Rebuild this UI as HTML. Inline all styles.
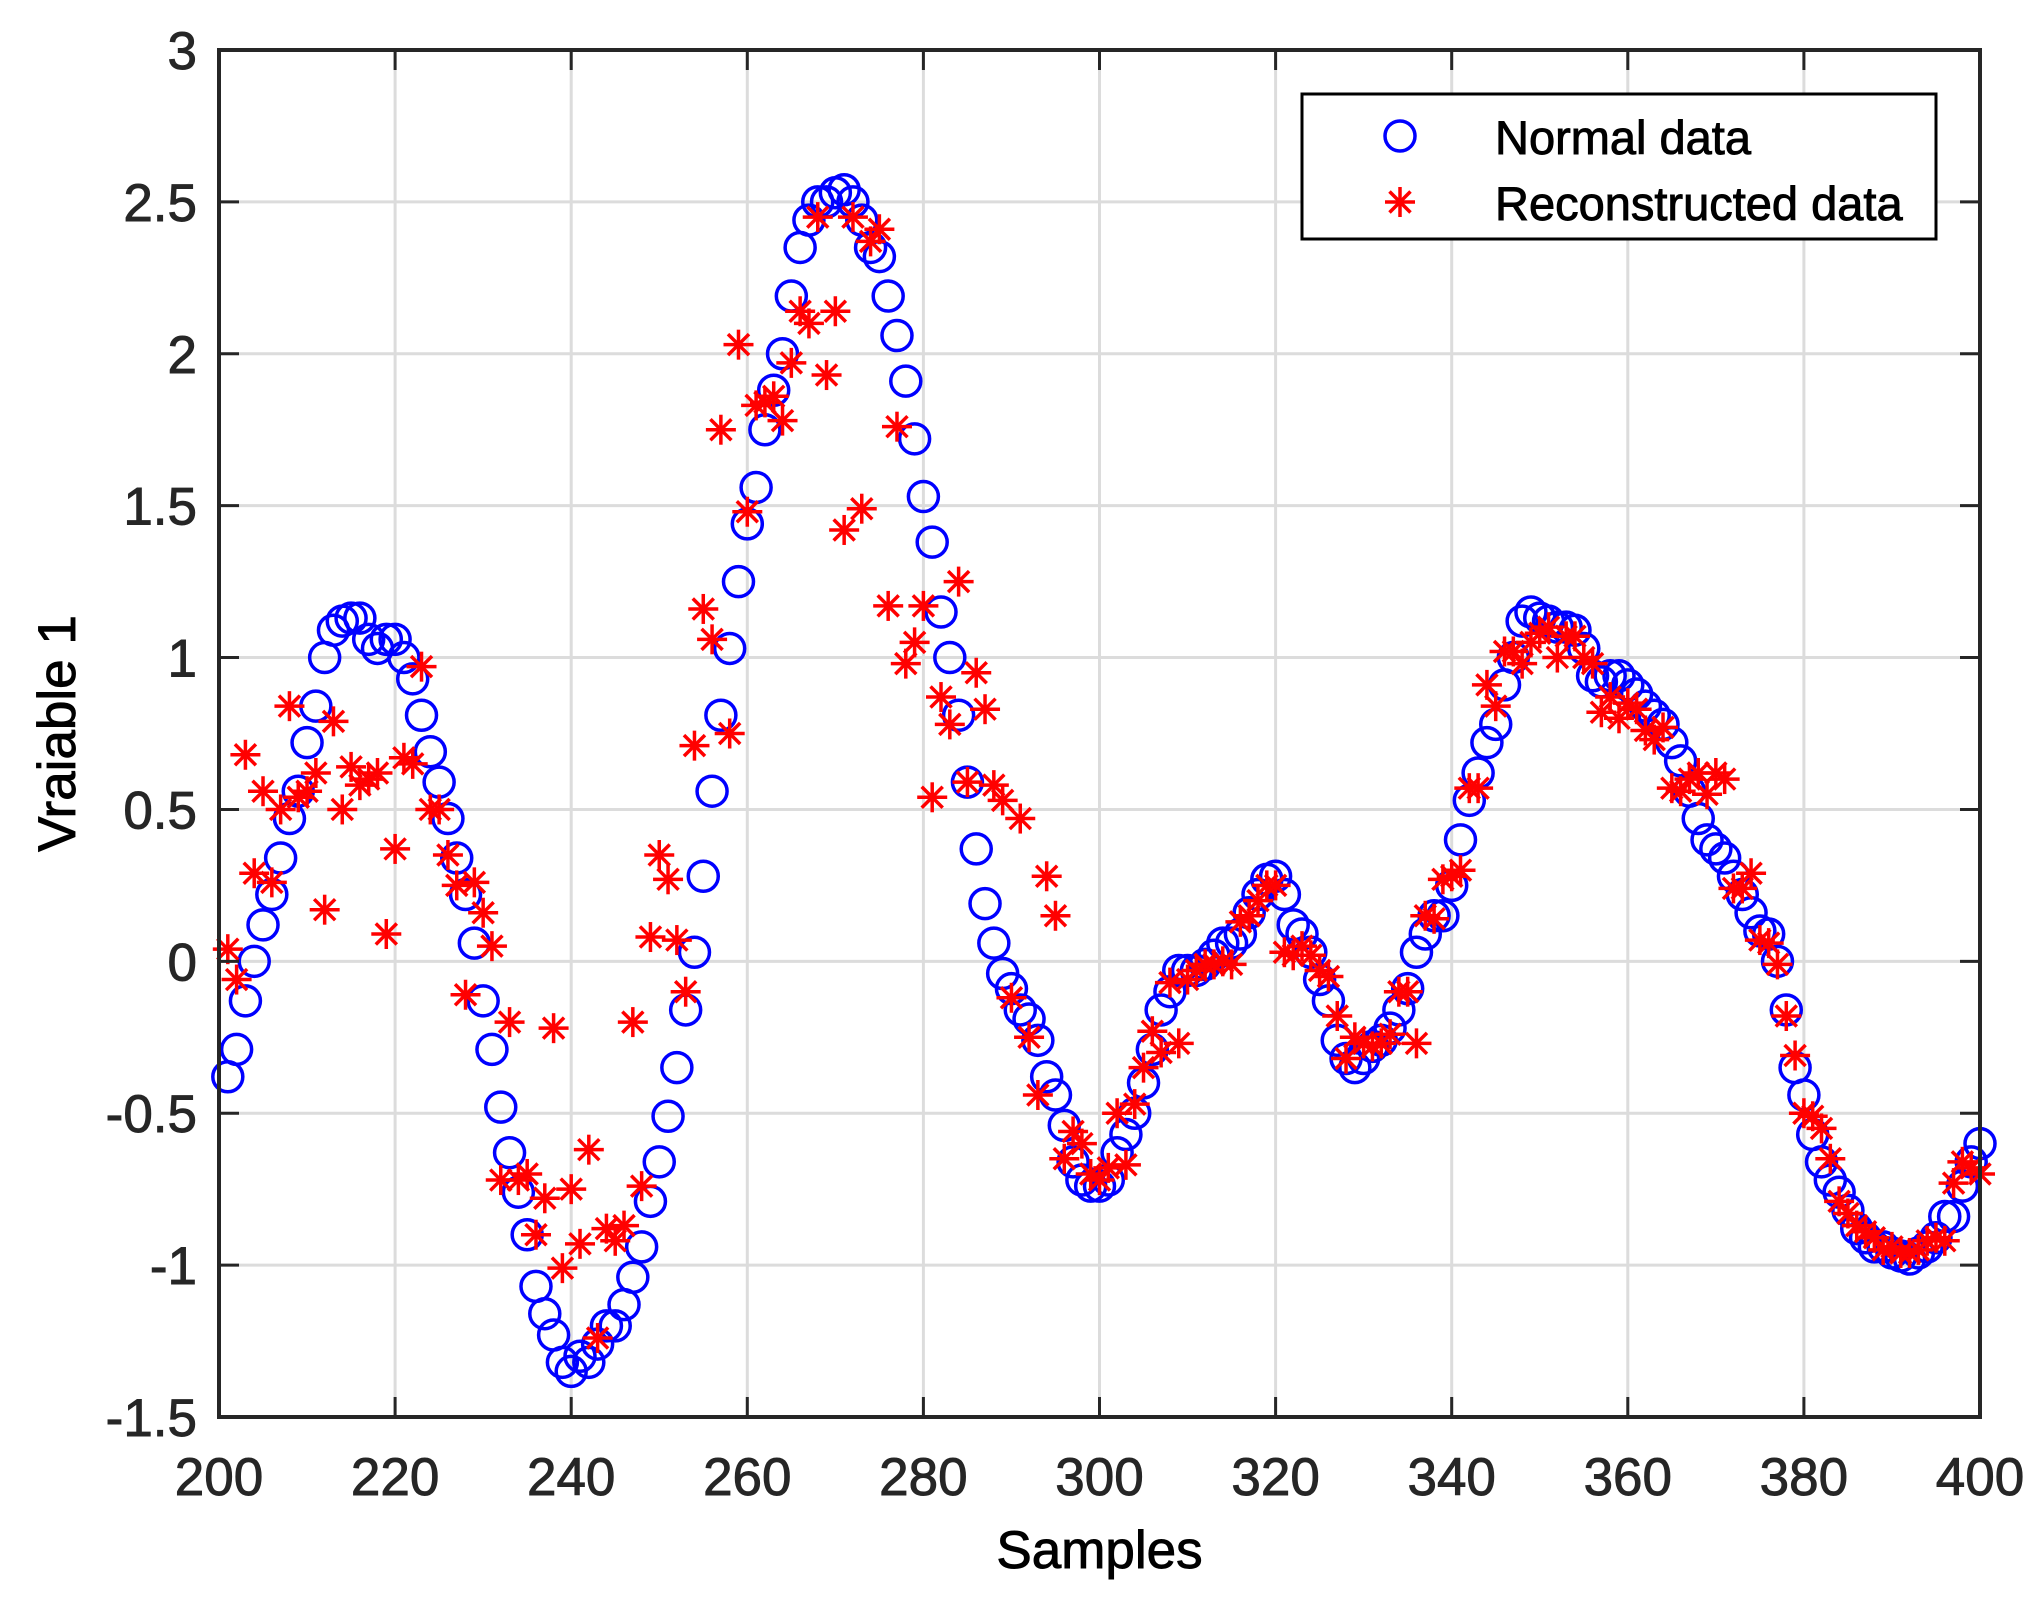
<!DOCTYPE html>
<html><head><meta charset="utf-8"><style>
html,body{margin:0;padding:0;background:#fff;}
svg{display:block;font-family:"Liberation Sans",Arial,sans-serif;}
</style></head><body>
<svg id="chart" width="2041" height="1612" viewBox="0 0 2041 1612">
<rect x="0" y="0" width="2041" height="1612" fill="#fff"/>
<g id="grid"></g><g id="marks"></g><g id="axes"></g>
</svg>
<script>
const xTicks=[200,220,240,260,280,300,320,340,360,380,400];
const yTicks=[-1.5,-1,-0.5,0,0.5,1,1.5,2,2.5,3];
const yTickLabels=["-1.5","-1","-0.5","0","0.5","1","1.5","2","2.5","3"];
const samples=[];for(let s=201;s<=400;s++)samples.push(s);
const normalData=[-0.38,-0.29,-0.13,0.0,0.12,0.22,0.34,0.47,0.56,0.72,0.84,1.0,1.09,1.12,1.13,1.13,1.06,1.03,1.06,1.06,1.0,0.93,0.81,0.69,0.59,0.47,0.34,0.22,0.06,-0.13,-0.29,-0.48,-0.63,-0.76,-0.9,-1.07,-1.16,-1.23,-1.32,-1.35,-1.3,-1.32,-1.26,-1.2,-1.2,-1.13,-1.04,-0.94,-0.79,-0.66,-0.51,-0.35,-0.16,0.03,0.28,0.56,0.81,1.03,1.25,1.44,1.56,1.75,1.88,2.0,2.19,2.35,2.44,2.5,2.5,2.53,2.54,2.5,2.44,2.35,2.32,2.19,2.06,1.91,1.72,1.53,1.38,1.15,1.0,0.81,0.59,0.37,0.19,0.06,-0.04,-0.09,-0.16,-0.19,-0.26,-0.38,-0.44,-0.54,-0.66,-0.72,-0.74,-0.74,-0.72,-0.63,-0.57,-0.5,-0.4,-0.29,-0.16,-0.1,-0.03,-0.03,-0.03,-0.01,0.02,0.06,0.06,0.09,0.16,0.22,0.27,0.28,0.22,0.12,0.09,0.03,-0.06,-0.13,-0.26,-0.32,-0.35,-0.32,-0.28,-0.26,-0.22,-0.16,-0.09,0.03,0.09,0.15,0.15,0.25,0.4,0.53,0.62,0.72,0.78,0.91,1.0,1.12,1.15,1.13,1.12,1.1,1.1,1.09,1.03,0.94,0.92,0.94,0.94,0.91,0.88,0.84,0.81,0.78,0.72,0.66,0.56,0.47,0.4,0.37,0.34,0.28,0.22,0.16,0.1,0.09,0.0,-0.16,-0.35,-0.44,-0.57,-0.66,-0.72,-0.76,-0.82,-0.88,-0.91,-0.94,-0.94,-0.96,-0.97,-0.98,-0.96,-0.94,-0.91,-0.84,-0.84,-0.74,-0.66,-0.6];
const reconData=[0.04,-0.06,0.68,0.29,0.56,0.26,0.5,0.84,0.54,0.56,0.62,0.17,0.79,0.5,0.64,0.58,0.6,0.62,0.09,0.37,0.67,0.65,0.97,0.5,0.5,0.35,0.25,-0.11,0.26,0.16,0.05,-0.72,-0.2,-0.72,-0.7,-0.9,-0.78,-0.22,-1.01,-0.75,-0.93,-0.62,-1.24,-0.88,-0.92,-0.87,-0.2,-0.74,0.08,0.35,0.27,0.07,-0.1,0.71,1.16,1.06,1.75,0.75,2.03,1.48,1.83,1.84,1.86,1.78,1.97,2.14,2.1,2.45,1.93,2.14,1.42,2.45,1.49,2.37,2.41,1.17,1.76,0.98,1.05,1.17,0.54,0.87,0.78,1.25,0.59,0.95,0.83,0.58,0.53,-0.12,0.47,-0.25,-0.44,0.28,0.15,-0.65,-0.56,-0.6,-0.7,-0.72,-0.68,-0.5,-0.67,-0.47,-0.35,-0.23,-0.3,-0.07,-0.27,-0.06,-0.03,-0.01,-0.01,0.0,-0.01,0.13,0.15,0.2,0.25,0.25,0.03,0.02,0.05,0.02,-0.03,-0.05,-0.18,-0.32,-0.25,-0.27,-0.28,-0.27,-0.24,-0.1,-0.1,-0.27,0.15,0.14,0.27,0.28,0.3,0.57,0.57,0.91,0.84,1.02,1.02,0.98,1.05,1.08,1.1,1.0,1.07,1.07,1.0,0.98,0.82,0.87,0.8,0.85,0.83,0.76,0.73,0.77,0.57,0.56,0.6,0.62,0.55,0.62,0.6,0.24,0.24,0.29,0.07,0.06,-0.01,-0.18,-0.31,-0.5,-0.51,-0.55,-0.65,-0.79,-0.83,-0.87,-0.89,-0.91,-0.95,-0.94,-0.96,-0.96,-0.95,-0.92,-0.91,-0.92,-0.73,-0.66,-0.68,-0.7];

const L=219,R=1980,T=50,B=1417;
const xMin=200,xMax=400,yMin=-1.5,yMax=3;
function xs(v){return L+(v-xMin)/(xMax-xMin)*(R-L);}
function ys(v){return B-(v-yMin)/(yMax-yMin)*(B-T);}
const NS="http://www.w3.org/2000/svg";
function mk(tag,attrs,parent){const e=document.createElementNS(NS,tag);for(const k in attrs)e.setAttribute(k,attrs[k]);parent.appendChild(e);return e;}
const grid=document.getElementById('grid'),marks=document.getElementById('marks'),axes=document.getElementById('axes');

xTicks.forEach(t=>{const x=xs(t);
 let g=mk('line',{x1:x,x2:x,y1:T,y2:B,stroke:'#dcdcdc','stroke-width':3},grid);
 
 
 mk('line',{x1:x,x2:x,y1:B,y2:B-20,stroke:'#262626','stroke-width':3},axes);
 mk('line',{x1:x,x2:x,y1:T,y2:T+20,stroke:'#262626','stroke-width':3},axes);
 let tx=mk('text',{x:x,y:1495,'text-anchor':'middle','font-size':53,fill:'#262626',stroke:'#262626','stroke-width':0.9},axes);tx.textContent=t;
 
 
});
yTicks.forEach((t,i)=>{const y=ys(t);
 let g=mk('line',{x1:L,x2:R,y1:y,y2:y,stroke:'#dcdcdc','stroke-width':3},grid);
 
 
 mk('line',{x1:L,x2:L+20,y1:y,y2:y,stroke:'#262626','stroke-width':3},axes);
 mk('line',{x1:R,x2:R-20,y1:y,y2:y,stroke:'#262626','stroke-width':3},axes);
 let tx=mk('text',{x:197,y:y+19,'text-anchor':'end','font-size':53,fill:'#262626',stroke:'#262626','stroke-width':0.9},axes);tx.textContent=yTickLabels[i];
 
 
});
let box=mk('rect',{x:L,y:T,width:R-L,height:B-T,fill:'none',stroke:'#262626','stroke-width':4},axes);



function star(cx,cy,s,parent){const g=mk('g',{stroke:'#ff0000','stroke-width':3.5},parent);
 mk('line',{x1:cx-s,x2:cx+s,y1:cy,y2:cy},g);mk('line',{x1:cx,x2:cx,y1:cy-s,y2:cy+s},g);
 const d=s*0.7;mk('line',{x1:cx-d,x2:cx+d,y1:cy-d,y2:cy+d},g);mk('line',{x1:cx-d,x2:cx+d,y1:cy+d,y2:cy-d},g);return g;}

samples.forEach((s,i)=>{
 let c=mk('circle',{cx:xs(s),cy:ys(normalData[i]),r:15,fill:'none',stroke:'#0000ff','stroke-width':3.5},marks);
 
 
});
samples.forEach((s,i)=>{
 let g=star(xs(s),ys(reconData[i]),15,marks);
 
 
});

const leg=mk('g',{},axes);


mk('rect',{x:1302,y:94,width:634,height:145,fill:'#fff',stroke:'#000','stroke-width':3},leg);
let lc=mk('circle',{cx:1400,cy:136,r:15,fill:'none',stroke:'#0000ff','stroke-width':3.5},leg);


let ls=star(1400,202,15,leg);


let t1=mk('text',{x:1495,y:154,'font-size':47,fill:'#000',stroke:'#000','stroke-width':0.9},leg);t1.textContent='Normal data';


let t2=mk('text',{x:1495,y:220,'font-size':47,fill:'#000',stroke:'#000','stroke-width':0.9},leg);t2.textContent='Reconstructed data';



let xl=mk('text',{x:(L+R)/2,y:1568,'text-anchor':'middle','font-size':53,fill:'#000',stroke:'#000','stroke-width':0.9},axes);xl.textContent='Samples';


let yl=mk('text',{x:0,y:0,'text-anchor':'middle','font-size':53,fill:'#000',stroke:'#000','stroke-width':0.9,transform:'translate(75,'+((T+B)/2)+') rotate(-90)'},axes);yl.textContent='Vraiable 1';


</script>
</body></html>
